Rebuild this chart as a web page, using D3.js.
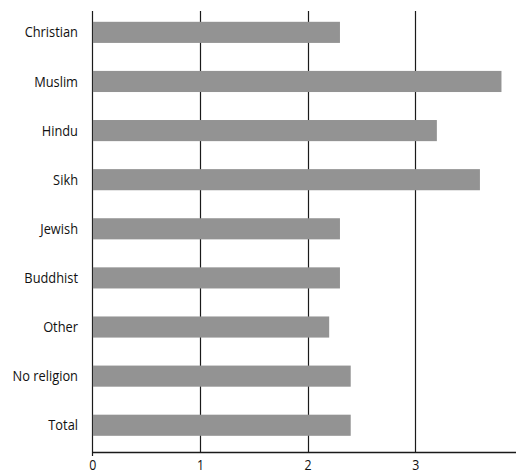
<!DOCTYPE html>
<html><head><meta charset="utf-8">
<script src="https://cdn.jsdelivr.net/npm/d3@7"></script>
<style>body{margin:0;background:#fff}svg{display:block}</style>
</head><body>
<script>
const categories = ["Christian","Muslim","Hindu","Sikh","Jewish","Buddhist","Other","No religion","Total"];
const values = [2.3, 3.8, 3.2, 3.6, 2.3, 2.3, 2.2, 2.4, 2.4];
const xTicks = [0, 1, 2, 3];

(function () {
const W = 516, H = 475;
const svg = d3.select("body").append("svg").attr("width", W).attr("height", H);
const font = "'Open Sans', 'Noto Sans', sans-serif";
const squeeze = 0.885;

const x = d3.scaleLinear().domain([0, 4]).range([92.3, 523]);
const y = d3.scaleBand().domain(categories).range([7.8, 449.8]).paddingInner(0.57).paddingOuter(0.285);
const yTop = 11, yBottom = 452;

// gridlines
svg.append("g").selectAll("line").data(xTicks).join("line")
  .attr("x1", d => Math.round(x(d)) + 0.5).attr("x2", d => Math.round(x(d)) + 0.5)
  .attr("y1", yTop).attr("y2", d => d === 0 ? yBottom + 4 : yBottom)
  .attr("stroke", "#1a1a1a").attr("stroke-width", 1.2);

// bars
svg.append("g").selectAll("rect").data(values).join("rect")
  .attr("x", x(0) + 0.6)
  .attr("y", (d, i) => y(categories[i]))
  .attr("width", d => x(d) - x(0) - 0.6)
  .attr("height", y.bandwidth())
  .attr("fill", "#939393");

// x axis
const xAxis = svg.append("g").attr("transform", `translate(0,${yBottom})`)
  .call(d3.axisBottom(x).tickValues(xTicks).tickSize(0).tickPadding(0).tickFormat(d3.format("d")));
xAxis.select(".domain").attr("d", `M${x(0)},0.5H${W}`).attr("stroke", "#1a1a1a").attr("stroke-width", 1.4);
xAxis.selectAll("text").attr("font-family", font).attr("font-size", 14).attr("fill", "#111")
  .attr("y", 18.5).attr("dy", null).attr("transform", `scale(${squeeze},1)`);

// category labels
svg.append("g").selectAll("text").data(categories).join("text")
  .attr("transform", d => `translate(78,${y(d) + y.bandwidth() / 2}) scale(${squeeze},1)`)
  .attr("dy", "0.35em").attr("text-anchor", "end")
  .attr("font-family", font).attr("font-size", 14.5).attr("fill", "#111")
  .text(d => d);
})();
</script>
</body></html>
